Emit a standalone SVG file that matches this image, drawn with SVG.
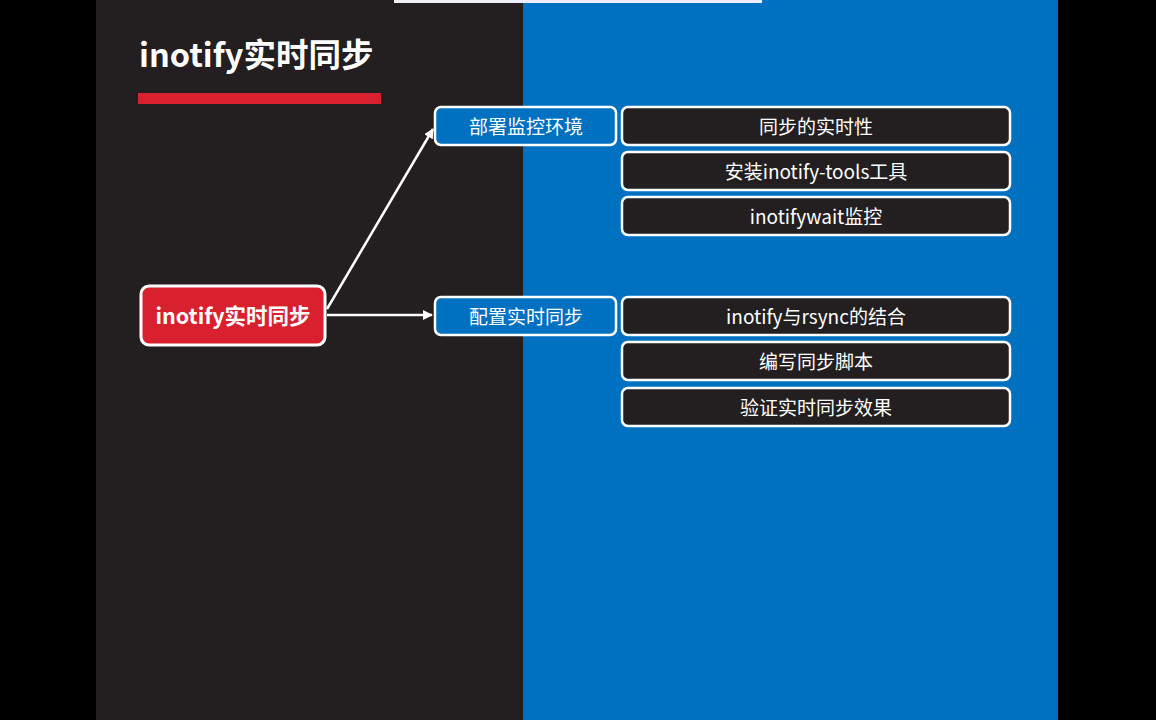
<svg xmlns="http://www.w3.org/2000/svg" width="1156" height="720" viewBox="0 0 1156 720">
<style>
text{font-family:"Noto Sans CJK SC","Noto Sans",sans-serif;fill:#fff;text-anchor:middle;dominant-baseline:central}
.mid{fill:#0070c0;stroke:#fff;stroke-width:2.5}
.leaf{fill:#231f20;stroke:#fff;stroke-width:2.5}
.t{font-size:19px}
.conn{stroke:#fff;stroke-width:2.5;fill:none}
</style>
<defs>
<marker id="ah" viewBox="0 0 10 10" refX="9" refY="5" markerWidth="4" markerHeight="4" orient="auto">
<path d="M0,0 L10,5 L0,10 z" fill="#fff"/>
</marker>
</defs>
<rect width="1156" height="720" fill="#000"/>
<rect x="96" y="0" width="427" height="720" fill="#231f20"/>
<rect x="523" y="0" width="535" height="720" fill="#0070c0"/>
<rect x="394" y="0" width="368" height="3" fill="#eeeef8"/>
<g id="title">
<text x="139" y="52" style="font-size:32.5px;font-weight:bold;text-anchor:start">inotify实时同步</text>
<rect x="138" y="93" width="243" height="11" fill="#d9202e"/>
</g>
<g id="connectors">
<line class="conn" x1="327" y1="309" x2="433" y2="129" marker-end="url(#ah)"/>
<line class="conn" x1="327" y1="315" x2="432" y2="315" marker-end="url(#ah)"/>
</g>
<g id="root">
<rect x="141" y="286" width="184" height="59" rx="8" fill="#d9202e" stroke="#fff" stroke-width="3"/>
<text x="233" y="314" style="font-size:21.5px;font-weight:bold">inotify实时同步</text>
</g>
<g id="mid1">
<rect class="mid" x="435" y="107" width="181" height="38" rx="6"/>
<text class="t" x="526" y="125">部署监控环境</text>
</g>
<g id="mid2">
<rect class="mid" x="435" y="297" width="181" height="38" rx="6"/>
<text class="t" x="526" y="315">配置实时同步</text>
</g>
<g id="leaf1">
<rect class="leaf" x="622" y="107" width="388" height="38" rx="6"/>
<text class="t" x="816" y="125">同步的实时性</text>
</g>
<g id="leaf2">
<rect class="leaf" x="622" y="152" width="388" height="38" rx="6"/>
<text class="t" x="816" y="170">安装inotify-tools工具</text>
</g>
<g id="leaf3">
<rect class="leaf" x="622" y="197" width="388" height="38" rx="6"/>
<text class="t" x="816" y="215">inotifywait监控</text>
</g>
<g id="leaf4">
<rect class="leaf" x="622" y="297" width="388" height="38" rx="6"/>
<text class="t" x="816" y="315">inotify与rsync的结合</text>
</g>
<g id="leaf5">
<rect class="leaf" x="622" y="342" width="388" height="38" rx="6"/>
<text class="t" x="816" y="360">编写同步脚本</text>
</g>
<g id="leaf6">
<rect class="leaf" x="622" y="388" width="388" height="38" rx="6"/>
<text class="t" x="816" y="406">验证实时同步效果</text>
</g>
</svg>
